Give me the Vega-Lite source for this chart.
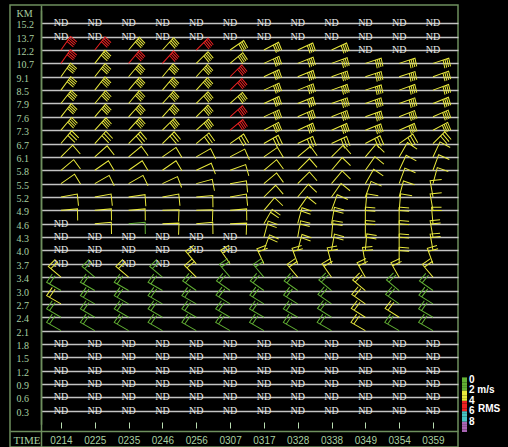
{
"$schema":"https://vega.github.io/schema/vega-lite/v6.json",
"width":448,"height":442,
"autosize":{"type":"none"},
"padding":{"left":10,"top":5,"right":50,"bottom":0},
"background":"#000000",
"config":{"view":{"stroke":"#6e8f5e","strokeWidth":1.5,"fill":"#000000"}},
"resolve":{"scale":{"color":"independent","x":"independent","y":"independent"}},
"datasets":{
"nd":[
{"t":"0214","h":"15.2","s":"ND"},{"t":"0225","h":"15.2","s":"ND"},{"t":"0235","h":"15.2","s":"ND"},{"t":"0246","h":"15.2","s":"ND"},{"t":"0256","h":"15.2","s":"ND"},{"t":"0307","h":"15.2","s":"ND"},{"t":"0317","h":"15.2","s":"ND"},{"t":"0328","h":"15.2","s":"ND"},{"t":"0338","h":"15.2","s":"ND"},{"t":"0349","h":"15.2","s":"ND"},{"t":"0354","h":"15.2","s":"ND"},{"t":"0359","h":"15.2","s":"ND"},
{"t":"0214","h":"13.7","s":"ND"},{"t":"0225","h":"13.7","s":"ND"},{"t":"0235","h":"13.7","s":"ND"},{"t":"0246","h":"13.7","s":"ND"},{"t":"0256","h":"13.7","s":"ND"},{"t":"0307","h":"13.7","s":"ND"},{"t":"0317","h":"13.7","s":"ND"},{"t":"0328","h":"13.7","s":"ND"},{"t":"0338","h":"13.7","s":"ND"},{"t":"0349","h":"13.7","s":"ND"},{"t":"0354","h":"13.7","s":"ND"},{"t":"0359","h":"13.7","s":"ND"},
{"t":"0349","h":"12.2","s":"ND"},{"t":"0354","h":"12.2","s":"ND"},{"t":"0359","h":"12.2","s":"ND"},
{"t":"0214","h":"4.6","s":"ND"},
{"t":"0214","h":"4.3","s":"ND"},{"t":"0225","h":"4.3","s":"ND"},{"t":"0235","h":"4.3","s":"ND"},{"t":"0246","h":"4.3","s":"ND"},{"t":"0256","h":"4.3","s":"ND"},{"t":"0307","h":"4.3","s":"ND"},
{"t":"0214","h":"4.0","s":"ND"},{"t":"0225","h":"4.0","s":"ND"},{"t":"0235","h":"4.0","s":"ND"},{"t":"0246","h":"4.0","s":"ND"},{"t":"0256","h":"4.0","s":"ND"},{"t":"0307","h":"4.0","s":"ND"},
{"t":"0214","h":"3.7","s":"ND"},{"t":"0225","h":"3.7","s":"ND"},{"t":"0235","h":"3.7","s":"ND"},{"t":"0246","h":"3.7","s":"ND"},
{"t":"0214","h":"1.8","s":"ND"},{"t":"0225","h":"1.8","s":"ND"},{"t":"0235","h":"1.8","s":"ND"},{"t":"0246","h":"1.8","s":"ND"},{"t":"0256","h":"1.8","s":"ND"},{"t":"0307","h":"1.8","s":"ND"},{"t":"0317","h":"1.8","s":"ND"},{"t":"0328","h":"1.8","s":"ND"},{"t":"0338","h":"1.8","s":"ND"},{"t":"0349","h":"1.8","s":"ND"},{"t":"0354","h":"1.8","s":"ND"},{"t":"0359","h":"1.8","s":"ND"},
{"t":"0214","h":"1.5","s":"ND"},{"t":"0225","h":"1.5","s":"ND"},{"t":"0235","h":"1.5","s":"ND"},{"t":"0246","h":"1.5","s":"ND"},{"t":"0256","h":"1.5","s":"ND"},{"t":"0307","h":"1.5","s":"ND"},{"t":"0317","h":"1.5","s":"ND"},{"t":"0328","h":"1.5","s":"ND"},{"t":"0338","h":"1.5","s":"ND"},{"t":"0349","h":"1.5","s":"ND"},{"t":"0354","h":"1.5","s":"ND"},{"t":"0359","h":"1.5","s":"ND"},
{"t":"0214","h":"1.2","s":"ND"},{"t":"0225","h":"1.2","s":"ND"},{"t":"0235","h":"1.2","s":"ND"},{"t":"0246","h":"1.2","s":"ND"},{"t":"0256","h":"1.2","s":"ND"},{"t":"0307","h":"1.2","s":"ND"},{"t":"0317","h":"1.2","s":"ND"},{"t":"0328","h":"1.2","s":"ND"},{"t":"0338","h":"1.2","s":"ND"},{"t":"0349","h":"1.2","s":"ND"},{"t":"0354","h":"1.2","s":"ND"},{"t":"0359","h":"1.2","s":"ND"},
{"t":"0214","h":"0.9","s":"ND"},{"t":"0225","h":"0.9","s":"ND"},{"t":"0235","h":"0.9","s":"ND"},{"t":"0246","h":"0.9","s":"ND"},{"t":"0256","h":"0.9","s":"ND"},{"t":"0307","h":"0.9","s":"ND"},{"t":"0317","h":"0.9","s":"ND"},{"t":"0328","h":"0.9","s":"ND"},{"t":"0338","h":"0.9","s":"ND"},{"t":"0349","h":"0.9","s":"ND"},{"t":"0354","h":"0.9","s":"ND"},{"t":"0359","h":"0.9","s":"ND"},
{"t":"0214","h":"0.6","s":"ND"},{"t":"0225","h":"0.6","s":"ND"},{"t":"0235","h":"0.6","s":"ND"},{"t":"0246","h":"0.6","s":"ND"},{"t":"0256","h":"0.6","s":"ND"},{"t":"0307","h":"0.6","s":"ND"},{"t":"0317","h":"0.6","s":"ND"},{"t":"0328","h":"0.6","s":"ND"},{"t":"0338","h":"0.6","s":"ND"},{"t":"0349","h":"0.6","s":"ND"},{"t":"0354","h":"0.6","s":"ND"},{"t":"0359","h":"0.6","s":"ND"},
{"t":"0214","h":"0.3","s":"ND"},{"t":"0225","h":"0.3","s":"ND"},{"t":"0235","h":"0.3","s":"ND"},{"t":"0246","h":"0.3","s":"ND"},{"t":"0256","h":"0.3","s":"ND"},{"t":"0307","h":"0.3","s":"ND"},{"t":"0317","h":"0.3","s":"ND"},{"t":"0328","h":"0.3","s":"ND"},{"t":"0338","h":"0.3","s":"ND"},{"t":"0349","h":"0.3","s":"ND"},{"t":"0354","h":"0.3","s":"ND"},{"t":"0359","h":"0.3","s":"ND"}
],
"wb":[
{"t":"0214","h":"12.2","d":35,"k":"f","r":5},{"t":"0225","h":"12.2","d":38,"k":"f","r":5},{"t":"0235","h":"12.2","d":40,"k":"f","r":3},{"t":"0246","h":"12.2","d":42,"k":"f","r":3},{"t":"0256","h":"12.2","d":45,"k":"f","r":5},{"t":"0307","h":"12.2","d":55,"k":"f","r":3},{"t":"0317","h":"12.2","d":62,"k":"f","r":3},{"t":"0328","h":"12.2","d":65,"k":"f","r":3},{"t":"0338","h":"12.2","d":65,"k":"f","r":3},
{"t":"0214","h":"10.7","d":35,"k":"f","r":5},{"t":"0225","h":"10.7","d":38,"k":"f","r":3},{"t":"0235","h":"10.7","d":40,"k":"f","r":5},{"t":"0246","h":"10.7","d":42,"k":"f","r":5},{"t":"0256","h":"10.7","d":45,"k":"f","r":3},{"t":"0307","h":"10.7","d":50,"k":"f","r":3},{"t":"0317","h":"10.7","d":65,"k":"f","r":3},{"t":"0328","h":"10.7","d":68,"k":"f","r":3},{"t":"0338","h":"10.7","d":70,"k":"f","r":3},{"t":"0349","h":"10.7","d":72,"k":"f","r":3},{"t":"0354","h":"10.7","d":72,"k":"f","r":3},{"t":"0359","h":"10.7","d":72,"k":"f","r":3},
{"t":"0214","h":"9.1","d":35,"k":"f","r":3},{"t":"0225","h":"9.1","d":38,"k":"f","r":3},{"t":"0235","h":"9.1","d":40,"k":"f","r":3},{"t":"0246","h":"9.1","d":40,"k":"f","r":3},{"t":"0256","h":"9.1","d":42,"k":"f","r":3},{"t":"0307","h":"9.1","d":45,"k":"f","r":5},{"t":"0317","h":"9.1","d":65,"k":"f","r":3},{"t":"0328","h":"9.1","d":68,"k":"f","r":3},{"t":"0338","h":"9.1","d":70,"k":"f","r":3},{"t":"0349","h":"9.1","d":72,"k":"f","r":3},{"t":"0354","h":"9.1","d":72,"k":"f","r":3},{"t":"0359","h":"9.1","d":70,"k":"f","r":3},
{"t":"0214","h":"8.5","d":36,"k":"f","r":3},{"t":"0225","h":"8.5","d":38,"k":"f","r":3},{"t":"0235","h":"8.5","d":40,"k":"f","r":3},{"t":"0246","h":"8.5","d":40,"k":"f","r":3},{"t":"0256","h":"8.5","d":42,"k":"f","r":3},{"t":"0307","h":"8.5","d":45,"k":"f","r":5},{"t":"0317","h":"8.5","d":65,"k":"f","r":3},{"t":"0328","h":"8.5","d":68,"k":"f","r":3},{"t":"0338","h":"8.5","d":70,"k":"f","r":3},{"t":"0349","h":"8.5","d":72,"k":"f","r":3},{"t":"0354","h":"8.5","d":70,"k":"f","r":3},{"t":"0359","h":"8.5","d":70,"k":"f","r":3},
{"t":"0214","h":"7.9","d":38,"k":"f","r":3},{"t":"0225","h":"7.9","d":40,"k":"f","r":3},{"t":"0235","h":"7.9","d":40,"k":"f","r":3},{"t":"0246","h":"7.9","d":42,"k":"f","r":3},{"t":"0256","h":"7.9","d":45,"k":"f","r":3},{"t":"0307","h":"7.9","d":48,"k":"f","r":3},{"t":"0317","h":"7.9","d":65,"k":"f","r":3},{"t":"0328","h":"7.9","d":68,"k":"f","r":3},{"t":"0338","h":"7.9","d":70,"k":"f","r":3},{"t":"0349","h":"7.9","d":70,"k":"f","r":3},{"t":"0354","h":"7.9","d":70,"k":"f","r":3},{"t":"0359","h":"7.9","d":68,"k":"f","r":3},
{"t":"0214","h":"7.6","d":38,"k":"f","r":3},{"t":"0225","h":"7.6","d":40,"k":"f","r":3},{"t":"0235","h":"7.6","d":42,"k":"f","r":3},{"t":"0246","h":"7.6","d":42,"k":"f","r":3},{"t":"0256","h":"7.6","d":45,"k":"f","r":3},{"t":"0307","h":"7.6","d":48,"k":"f","r":5},{"t":"0317","h":"7.6","d":65,"k":"f","r":3},{"t":"0328","h":"7.6","d":66,"k":"f","r":3},{"t":"0338","h":"7.6","d":68,"k":"f","r":3},{"t":"0349","h":"7.6","d":70,"k":"f","r":3},{"t":"0354","h":"7.6","d":68,"k":"f","r":3},{"t":"0359","h":"7.6","d":66,"k":"f","r":3},
{"t":"0214","h":"7.3","d":40,"k":"f","r":3},{"t":"0225","h":"7.3","d":42,"k":"f","r":3},{"t":"0235","h":"7.3","d":42,"k":"f","r":3},{"t":"0246","h":"7.3","d":45,"k":"f","r":3},{"t":"0256","h":"7.3","d":48,"k":"f","r":3},{"t":"0307","h":"7.3","d":50,"k":"f","r":5},{"t":"0317","h":"7.3","d":62,"k":"f","r":3},{"t":"0328","h":"7.3","d":65,"k":"f","r":3},{"t":"0338","h":"7.3","d":66,"k":"f","r":3},{"t":"0349","h":"7.3","d":68,"k":"f","r":3},{"t":"0354","h":"7.3","d":66,"k":"f","r":3},{"t":"0359","h":"7.3","d":62,"k":"f","r":3},
{"t":"0214","h":"6.7","d":40,"k":"s3","r":3},{"t":"0225","h":"6.7","d":42,"k":"s3","r":3},{"t":"0235","h":"6.7","d":45,"k":"s3","r":3},{"t":"0246","h":"6.7","d":45,"k":"s3","r":3},{"t":"0256","h":"6.7","d":50,"k":"s3","r":3},{"t":"0307","h":"6.7","d":55,"k":"s3","r":3},{"t":"0317","h":"6.7","d":60,"k":"s3","r":3},{"t":"0328","h":"6.7","d":65,"k":"s3","r":3},{"t":"0338","h":"6.7","d":65,"k":"s3","r":3},{"t":"0349","h":"6.7","d":62,"k":"s3","r":3},{"t":"0354","h":"6.7","d":55,"k":"s3","r":3},{"t":"0359","h":"6.7","d":45,"k":"s3","r":3},
{"t":"0214","h":"6.1","d":45,"k":"s1","r":3},{"t":"0225","h":"6.1","d":48,"k":"s1","r":3},{"t":"0235","h":"6.1","d":50,"k":"s1","r":3},{"t":"0246","h":"6.1","d":55,"k":"s1","r":3},{"t":"0256","h":"6.1","d":60,"k":"s1","r":3},{"t":"0307","h":"6.1","d":62,"k":"s1","r":3},{"t":"0317","h":"6.1","d":55,"k":"s1","r":3},{"t":"0328","h":"6.1","d":50,"k":"s1","r":3},{"t":"0338","h":"6.1","d":45,"k":"s1","r":3},{"t":"0349","h":"6.1","d":40,"k":"s1","r":3},{"t":"0354","h":"6.1","d":30,"k":"s1","r":3},{"t":"0359","h":"6.1","d":25,"k":"s1","r":3},
{"t":"0214","h":"5.8","d":50,"k":"s1","r":3},{"t":"0225","h":"5.8","d":55,"k":"s1","r":3},{"t":"0235","h":"5.8","d":55,"k":"s1","r":3},{"t":"0246","h":"5.8","d":55,"k":"s1","r":3},{"t":"0256","h":"5.8","d":65,"k":"s1","r":3},{"t":"0307","h":"5.8","d":70,"k":"s1","r":3},{"t":"0317","h":"5.8","d":50,"k":"s1","r":3},{"t":"0328","h":"5.8","d":45,"k":"s1","r":3},{"t":"0338","h":"5.8","d":40,"k":"s1","r":3},{"t":"0349","h":"5.8","d":35,"k":"s1","r":3},{"t":"0354","h":"5.8","d":25,"k":"s1","r":3},{"t":"0359","h":"5.8","d":20,"k":"s1","r":3},
{"t":"0214","h":"5.5","d":55,"k":"s1","r":3},{"t":"0225","h":"5.5","d":60,"k":"s1","r":3},{"t":"0235","h":"5.5","d":60,"k":"s1","r":3},{"t":"0246","h":"5.5","d":65,"k":"s1","r":3},{"t":"0256","h":"5.5","d":75,"k":"s1","r":3},{"t":"0307","h":"5.5","d":80,"k":"s1","r":3},{"t":"0317","h":"5.5","d":50,"k":"s1","r":3},{"t":"0328","h":"5.5","d":45,"k":"s1","r":3},{"t":"0338","h":"5.5","d":40,"k":"s1","r":3},{"t":"0349","h":"5.5","d":30,"k":"s1","r":3},{"t":"0354","h":"5.5","d":20,"k":"s1","r":3},{"t":"0359","h":"5.5","d":15,"k":"s1","r":3},
{"t":"0214","h":"5.2","d":80,"k":"s1","r":3},{"t":"0225","h":"5.2","d":80,"k":"s1","r":3},{"t":"0235","h":"5.2","d":82,"k":"s1","r":3},{"t":"0246","h":"5.2","d":80,"k":"s1","r":3},{"t":"0256","h":"5.2","d":85,"k":"s1","r":3},{"t":"0307","h":"5.2","d":80,"k":"s1","r":3},{"t":"0317","h":"5.2","d":45,"k":"s1","r":3},{"t":"0328","h":"5.2","d":40,"k":"s1","r":3},{"t":"0338","h":"5.2","d":35,"k":"s1","r":3},{"t":"0349","h":"5.2","d":20,"k":"s1","r":3},{"t":"0354","h":"5.2","d":15,"k":"s1","r":3},{"t":"0359","h":"5.2","d":350,"k":"s1","r":3},
{"t":"0214","h":"4.9","d":85,"k":"s1","r":3},{"t":"0225","h":"4.9","d":85,"k":"s1","r":3},{"t":"0235","h":"4.9","d":85,"k":"s1","r":3},{"t":"0246","h":"4.9","d":88,"k":"s1","r":3},{"t":"0256","h":"4.9","d":88,"k":"s1","r":3},{"t":"0307","h":"4.9","d":85,"k":"s1","r":3},{"t":"0317","h":"4.9","d":40,"k":"s1","r":3},{"t":"0328","h":"4.9","d":35,"k":"s1","r":3},{"t":"0338","h":"4.9","d":20,"k":"s1","r":3},{"t":"0349","h":"4.9","d":5,"k":"s1","r":3},{"t":"0354","h":"4.9","d":5,"k":"s1","r":3},{"t":"0359","h":"4.9","d":350,"k":"s1","r":3},
{"t":"0225","h":"4.6","d":85,"k":"s1","r":3},{"t":"0235","h":"4.6","d":85,"k":"s1","r":1},{"t":"0246","h":"4.6","d":88,"k":"s1","r":3},{"t":"0256","h":"4.6","d":85,"k":"s1","r":3},{"t":"0307","h":"4.6","d":88,"k":"s1","r":3},{"t":"0317","h":"4.6","d":30,"k":"s2","r":3},{"t":"0328","h":"4.6","d":15,"k":"s2","r":3},{"t":"0338","h":"4.6","d":10,"k":"s2","r":3},{"t":"0349","h":"4.6","d":0,"k":"s2","r":3},{"t":"0354","h":"4.6","d":0,"k":"s2","r":3},{"t":"0359","h":"4.6","d":355,"k":"s2","r":3},
{"t":"0317","h":"4.3","d":15,"k":"s2","r":3},{"t":"0328","h":"4.3","d":10,"k":"s2","r":3},{"t":"0338","h":"4.3","d":5,"k":"s2","r":3},{"t":"0349","h":"4.3","d":0,"k":"s2","r":3},{"t":"0354","h":"4.3","d":0,"k":"s2","r":3},{"t":"0359","h":"4.3","d":350,"k":"s2","r":3},
{"t":"0317","h":"4.0","d":20,"k":"s2","r":3},{"t":"0328","h":"4.0","d":15,"k":"s2","r":3},{"t":"0338","h":"4.0","d":10,"k":"s2","r":3},{"t":"0349","h":"4.0","d":5,"k":"s2","r":3},{"t":"0354","h":"4.0","d":0,"k":"s2","r":3},{"t":"0359","h":"4.0","d":350,"k":"s2","r":3},
{"t":"0256","h":"3.7","d":320,"k":"s2","r":3},{"t":"0307","h":"3.7","d":325,"k":"s2","r":3},{"t":"0317","h":"3.7","d":335,"k":"s2","r":3},{"t":"0328","h":"3.7","d":340,"k":"s2","r":3},{"t":"0338","h":"3.7","d":345,"k":"s2","r":3},{"t":"0349","h":"3.7","d":350,"k":"s2","r":3},{"t":"0354","h":"3.7","d":0,"k":"s2","r":3},{"t":"0359","h":"3.7","d":340,"k":"s2","r":3},
{"t":"0214","h":"3.4","d":310,"k":"s2","r":3},{"t":"0225","h":"3.4","d":310,"k":"s2","r":1},{"t":"0235","h":"3.4","d":310,"k":"s2","r":3},{"t":"0246","h":"3.4","d":310,"k":"s2","r":1},{"t":"0256","h":"3.4","d":315,"k":"s2","r":3},{"t":"0307","h":"3.4","d":320,"k":"s2","r":1},{"t":"0317","h":"3.4","d":320,"k":"s2","r":1},{"t":"0328","h":"3.4","d":320,"k":"s2","r":3},{"t":"0338","h":"3.4","d":325,"k":"s2","r":3},{"t":"0349","h":"3.4","d":330,"k":"s2","r":3},{"t":"0354","h":"3.4","d":330,"k":"s2","r":3},{"t":"0359","h":"3.4","d":320,"k":"s2","r":3},
{"t":"0214","h":"3.0","d":300,"k":"s2","r":1},{"t":"0225","h":"3.0","d":300,"k":"s2","r":1},{"t":"0235","h":"3.0","d":300,"k":"s2","r":1},{"t":"0246","h":"3.0","d":300,"k":"s2","r":1},{"t":"0256","h":"3.0","d":305,"k":"s2","r":1},{"t":"0307","h":"3.0","d":305,"k":"s2","r":1},{"t":"0317","h":"3.0","d":305,"k":"s2","r":1},{"t":"0328","h":"3.0","d":305,"k":"s2","r":1},{"t":"0338","h":"3.0","d":310,"k":"s2","r":1},{"t":"0349","h":"3.0","d":310,"k":"s2","r":3},{"t":"0354","h":"3.0","d":310,"k":"s2","r":1},{"t":"0359","h":"3.0","d":305,"k":"s2","r":1},
{"t":"0214","h":"2.7","d":300,"k":"s2","r":3},{"t":"0225","h":"2.7","d":300,"k":"s2","r":1},{"t":"0235","h":"2.7","d":300,"k":"s2","r":1},{"t":"0246","h":"2.7","d":300,"k":"s2","r":1},{"t":"0256","h":"2.7","d":300,"k":"s2","r":1},{"t":"0307","h":"2.7","d":302,"k":"s2","r":1},{"t":"0317","h":"2.7","d":302,"k":"s2","r":1},{"t":"0328","h":"2.7","d":302,"k":"s2","r":1},{"t":"0338","h":"2.7","d":305,"k":"s2","r":1},{"t":"0349","h":"2.7","d":305,"k":"s2","r":3},{"t":"0354","h":"2.7","d":305,"k":"s2","r":1},{"t":"0359","h":"2.7","d":302,"k":"s2","r":1},
{"t":"0214","h":"2.4","d":300,"k":"s2","r":1},{"t":"0225","h":"2.4","d":300,"k":"s2","r":1},{"t":"0235","h":"2.4","d":300,"k":"s2","r":1},{"t":"0246","h":"2.4","d":300,"k":"s2","r":1},{"t":"0256","h":"2.4","d":300,"k":"s2","r":1},{"t":"0307","h":"2.4","d":300,"k":"s2","r":1},{"t":"0317","h":"2.4","d":300,"k":"s2","r":1},{"t":"0328","h":"2.4","d":300,"k":"s2","r":1},{"t":"0338","h":"2.4","d":302,"k":"s2","r":1},{"t":"0349","h":"2.4","d":302,"k":"s2","r":3},{"t":"0354","h":"2.4","d":302,"k":"s2","r":3},{"t":"0359","h":"2.4","d":300,"k":"s2","r":1},
{"t":"0214","h":"2.1","d":300,"k":"s2","r":1},{"t":"0225","h":"2.1","d":300,"k":"s2","r":1},{"t":"0235","h":"2.1","d":300,"k":"s2","r":1},{"t":"0246","h":"2.1","d":300,"k":"s2","r":1},{"t":"0256","h":"2.1","d":300,"k":"s2","r":1},{"t":"0307","h":"2.1","d":300,"k":"s2","r":1},{"t":"0317","h":"2.1","d":300,"k":"s2","r":1},{"t":"0328","h":"2.1","d":300,"k":"s2","r":1},{"t":"0338","h":"2.1","d":300,"k":"s2","r":1},{"t":"0349","h":"2.1","d":300,"k":"s2","r":3},{"t":"0354","h":"2.1","d":300,"k":"s2","r":1},{"t":"0359","h":"2.1","d":300,"k":"s2","r":1}
]},
"layer":[
{"encoding":{
"x":{"field":"t","type":"ordinal","scale":{"type":"point","domain":["0214","0225","0235","0246","0256","0307","0317","0328","0338","0349","0354","0359"],"range":[31,448],"padding":0.665,"align":0.444},
 "axis":{"orient":"bottom","offset":-25,"title":"TIME","titleX":3,"titleY":21,"titleAlign":"left","titleAnchor":"start","titleBaseline":"alphabetic","titleFont":"Liberation Serif","titleFontSize":11,"titleFontWeight":"normal","titleColor":"#a8d0a0","labelFont":"Liberation Sans","labelFontSize":10,"labelColor":"#a8d0a0","labelAngle":0,"labelPadding":7,"labelBaseline":"top","ticks":true,"tickSize":6,"tickColor":"#b8dcb0","tickWidth":1,"domain":false,"grid":false}},
"y":{"field":"h","type":"ordinal","scale":{"type":"point","domain":["15.2","13.7","12.2","10.7","9.1","8.5","7.9","7.6","7.3","6.7","6.1","5.8","5.5","5.2","4.9","4.6","4.3","4.0","3.7","3.4","3.0","2.7","2.4","2.1","1.8","1.5","1.2","0.9","0.6","0.3"],"range":[4.94,419.14],"padding":1,"align":0.5},
 "axis":{"orient":"left","offset":-31,"title":"KM","titleAngle":0,"titleX":-25,"titleY":11,"titleAlign":"left","titleBaseline":"alphabetic","titleFont":"Liberation Serif","titleFontSize":10,"titleFontWeight":"normal","titleColor":"#a8d0a0","labelFont":"Liberation Serif","labelFontSize":10,"labelColor":"#a8d0a0","labelAlign":"left","labelBaseline":"middle","labelPadding":25,"labelOffset":1.5,"labelOverlap":false,"ticks":false,"tickSize":0,"domainColor":"#6e8f5e","domainWidth":1.5,"grid":true,"gridColor":"#c4c4c4","gridWidth":1.3}}
},
"layer":[
{"data":{"name":"nd"},"mark":{"type":"text","font":"Liberation Serif","fontSize":10,"color":"#e6e6e6"},"encoding":{"text":{"field":"s"}}},
{"data":{"name":"wb"},"mark":{"type":"point","filled":false,"size":1100,"strokeWidth":1,"opacity":1},
 "encoding":{
  "shape":{"field":"k","type":"nominal","scale":{"domain":["s1","s2","s3","f"],"range":["M0,0L0,-1L0.7,-0.95","M0,0L0,-1L0.6,-0.95M0,-0.8L0.6,-0.75","M0,0L0,-1L0.6,-0.95M0,-0.82L0.6,-0.77M0,-0.64L0.6,-0.59","M0,0L0,-1L0.5,-0.95M0,-0.88L0.5,-0.83M0,-0.76L0.5,-0.71M0,-0.64L0.5,-0.59"]},"legend":null},
  "angle":{"field":"d","type":"quantitative","scale":{"domain":[0,360],"range":[0,360]},"legend":null},
  "color":{"field":"r","type":"quantitative","scale":{"type":"quantize","domain":[0,10],"nice":false,"zero":false,"range":["#62b034","#62b034","#e8e83c","#e8e83c","#ee2222","#ee2222","#48c4c4","#48c4c4","#a864b4","#a864b4"]},"legend":null}
 }}
]},
{"data":{"name":"wb"},"mark":{"type":"point","opacity":0,"size":1},
 "encoding":{
  "x":{"field":"t","type":"ordinal","scale":{"type":"point","domain":["0214","0225","0235","0246","0256","0307","0317","0328","0338","0349","0354","0359"],"range":[0,448]},
   "axis":{"orient":"bottom","offset":-16,"labels":false,"ticks":false,"title":null,"grid":false,"domainColor":"#6e8f5e","domainWidth":1.5}},
  "y":{"field":"h","type":"ordinal","scale":{"type":"point","domain":["15.2","13.7","12.2","10.7","9.1","8.5","7.9","7.6","7.3","6.7","6.1","5.8","5.5","5.2","4.9","4.6","4.3","4.0","3.7","3.4","3.0","2.7","2.4","2.1","1.8","1.5","1.2","0.9","0.6","0.3"],"range":[0,442]},
   "axis":{"orient":"left","offset":-31,"labels":false,"ticks":false,"title":null,"grid":false,"domainColor":"#6e8f5e","domainWidth":1.5}},
  "color":{"field":"r","type":"quantitative","scale":{"type":"quantize","domain":[0,10.5],"nice":false,"zero":false,"range":["#a864b4","#a864b4","#a864b4","#a864b4","#48c4c4","#48c4c4","#48c4c4","#48c4c4","#ee2222","#ee2222","#ee2222","#ee2222","#e8e83c","#e8e83c","#e8e83c","#e8e83c","#62b034","#62b034","#62b034","#62b034","#62b034"]},
   "legend":{"orient":"none","legendX":452,"legendY":372.4,"type":"gradient","direction":"vertical","title":null,"gradientLength":54.6,"gradientThickness":5,"gradientStrokeWidth":0,"labelFont":"Liberation Sans","labelFontSize":10,"labelFontWeight":"bold","labelColor":"#ffffff","labelOffset":2,"labelOverlap":false,
    "labelExpr":"abs(datum.value-10)<0.01?'0':abs(datum.value-8)<0.01?'2 m/s':abs(datum.value-6)<0.01?'4':abs(datum.value-4.5)<0.01?'RMS':abs(datum.value-4)<0.01?'6':abs(datum.value-2)<0.01?'8':''",
    "encode":{"labels":{"update":{"dx":{"signal":"abs(datum.value-4.5)<0.01?9:0"}}}}}}
 }}
]
}
